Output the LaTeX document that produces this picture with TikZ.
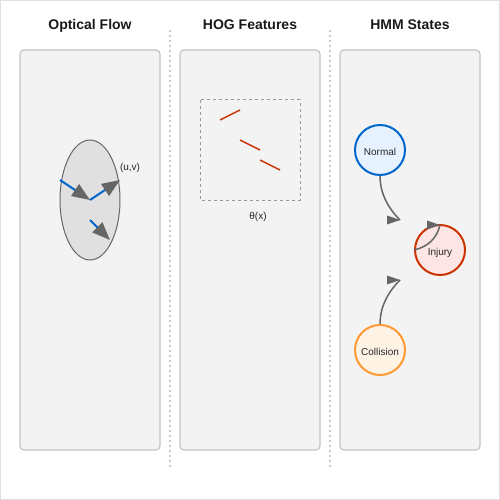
\documentclass[tikz,border=0pt]{standalone}
\usepackage{fontspec}
\setmainfont{Liberation Sans}
\usetikzlibrary{arrows.meta}
\definecolor{panelfill}{HTML}{F3F3F3}
\definecolor{paneldraw}{HTML}{C4C4C4}
\definecolor{headgray}{HTML}{666666}
\definecolor{flowblue}{HTML}{0066CC}
\definecolor{gradred}{HTML}{CC3300}
\tikzset{
  panel/.style = { fill=panelfill, draw=paneldraw, line width=1.2pt, rounded corners=4pt },
  sep/.style   = { draw=black!20, line width=1.5pt, dash pattern=on 2pt off 3pt },
  title/.style = { font=\fontsize{14}{16}\selectfont\bfseries, text=black!90,
                   text height=14pt, text depth=0pt },
  small/.style = { font=\fontsize{10}{12}\selectfont, text=black!85,
                   text height=10pt, text depth=0pt },
  flow/.style  = { flowblue, line width=2pt, -{Triangle[length=18pt,width=14pt,color=headgray]} },
  grad/.style  = { gradred, line width=1.5pt },
  state/.style = { circle, minimum size=50pt, inner sep=0pt, line width=2pt,
                   font=\fontsize{10}{12}\selectfont, text=black!85,
                   text height=10pt, text depth=0pt },
  trans/.style = { headgray, line width=1.5pt },
  head/.style  = { fill=headgray }
}

\begin{document}
\begin{tikzpicture}[x=1pt,y=-1pt]
    \useasboundingbox (0,0) rectangle (500,500);
    \draw[black!12] (0.5,0.5) rectangle (499.5,499.5);

    % panels
    \draw[panel] (20,50)  rectangle (160,450);
    \draw[panel] (180,50) rectangle (320,450);
    \draw[panel] (340,50) rectangle (480,450);

    \draw[sep] (170,30) -- (170,470);
    \draw[sep] (330,30) -- (330,470);

    \node[title] at (90,22.5)  {Optical Flow};
    \node[title] at (250,22.5) {HOG Features};
    \node[title] at (410,22.5) {HMM States};

    % optical flow
    \draw[fill=black!12, draw=headgray, line width=1pt] (90,200) ellipse [x radius=30, y radius=60];
    \draw[flow] (60,180) -- (90,200);
    \draw[flow] (90,200) -- (120,180);
    \draw[flow] (90,220) -- (110,240);
    \node[small] at (130,165) {(u,v)};

    % hog
    \draw[black!40, line width=1pt, dashed] (200,100) rectangle (300,200);
    \draw[grad] (220,120) -- (240,110);
    \draw[grad] (240,140) -- (260,150);
    \draw[grad] (260,160) -- (280,170);
    \node[small] at (258,214.5) {θ(x)};

    % hmm
    \node[state, draw=flowblue, fill={rgb,255:red,230;green,242;blue,255}] (normal) at (380,150) {Normal};
    \node[state, draw=gradred, fill={rgb,255:red,253;green,229;blue,229}] (injury) at (440,250) {Injury};
    \node[state, draw={rgb,255:red,255;green,153;blue,51}, fill={rgb,255:red,255;green,243;blue,230}] (collision) at (380,350) {Collision};

    \coordinate (tipN) at (400,220);
    \coordinate (tipI) at (440,225);
    \coordinate (tipC) at (400,280);

    \draw[trans] (normal.south) .. controls (380,191.7) and (386.7,206.7) .. (tipN);
    \draw[trans] (injury.west) .. controls (428.3,246.7) and (436.7,238.3) .. (tipI);
    \draw[trans] (collision.north) .. controls (380,308.3) and (386.7,293.3) .. (tipC);

    \fill[head] (tipN) -- ++(-13,-4.5) -- ++(0,9) -- cycle;
    \fill[head] (tipI) -- ++(-13,-4.5) -- ++(0,9) -- cycle;
    \fill[head] (tipC) -- ++(-13,-4.5) -- ++(0,9) -- cycle;
\end{tikzpicture}
\end{document}
